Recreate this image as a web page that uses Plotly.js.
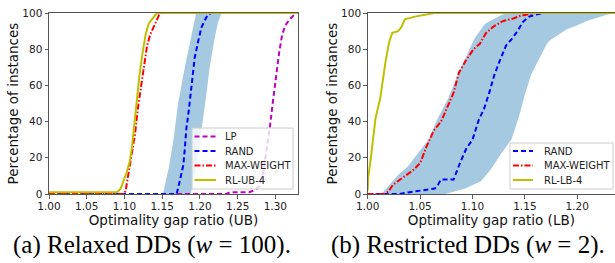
<!DOCTYPE html>
<html><head><meta charset="utf-8">
<script src="https://cdn.plot.ly/plotly-3.0.1.min.js"></script>
<style>html,body{margin:0;padding:0;background:#fff}#c{width:615px;height:263px}</style>
</head><body><div id="c"></div>
<script>
// ---- Panel (a): Relaxed DDs, upper bound ----
const lpX   = [1.00, 1.235, 1.24, 1.265, 1.272, 1.278, 1.284, 1.289, 1.293, 1.297, 1.301, 1.305, 1.309, 1.313, 1.318, 1.323, 1.327, 1.33];
const lpY   = [0, 0, 1, 1, 2, 4, 12, 25, 38, 52, 66, 78, 88, 93, 96, 98, 100, 100];
const randAX = [1.00, 1.169, 1.171, 1.174, 1.178, 1.180, 1.182, 1.1855, 1.1885, 1.191, 1.193, 1.1975, 1.202, 1.2065, 1.2105, 1.215, 1.33];
const randAY = [0, 0, 3, 9, 16, 25, 36, 47, 57, 66, 75, 84, 92, 96, 99, 100, 100];
const mwAX  = [1.00, 1.100, 1.102, 1.105, 1.109, 1.114, 1.118, 1.122, 1.126, 1.130, 1.134, 1.138, 1.142, 1.146, 1.149, 1.33];
const mwAY  = [0, 0, 3, 10, 20, 33, 48, 60, 72, 82, 88, 92, 96, 99, 100, 100];
const rlAX  = [1.00, 1.090, 1.095, 1.099, 1.103, 1.107, 1.110, 1.113, 1.116, 1.120, 1.124, 1.128, 1.132, 1.137, 1.141, 1.144, 1.33];
const rlAY  = [1, 1, 3, 7, 12, 18, 26, 38, 52, 66, 78, 88, 94, 97, 99, 100, 100];
const bandALoX = [1.151, 1.159, 1.165, 1.171, 1.180, 1.187, 1.192, 1.195];
const bandALoY = [0, 15, 30, 50, 70, 85, 95, 100];
const bandAHiX = [1.188, 1.195, 1.200, 1.207, 1.213, 1.219, 1.224, 1.229];
const bandAHiY = [0, 15, 30, 50, 70, 85, 95, 100];

// ---- Panel (b): Restricted DDs, lower bound ----
const randBX = [1.00, 1.030, 1.040, 1.053, 1.064, 1.067, 1.070, 1.082, 1.085, 1.088, 1.094, 1.100, 1.106, 1.111, 1.116, 1.121, 1.127, 1.132, 1.138, 1.143, 1.148, 1.154, 1.160, 1.167, 1.236];
const randBY = [0, 0, 1, 2, 3, 5, 8, 8, 13, 17, 25, 30, 41, 47, 56, 66, 75, 82, 86, 90, 95, 98, 99, 100, 100];
const mwBX  = [1.00, 1.016, 1.020, 1.024, 1.031, 1.037, 1.043, 1.050, 1.056, 1.063, 1.070, 1.076, 1.082, 1.087, 1.094, 1.101, 1.107, 1.113, 1.120, 1.129, 1.139, 1.146, 1.155, 1.160, 1.236];
const mwBY  = [0, 0, 1.5, 5, 8, 10.5, 13, 17, 26, 35, 40, 48, 56, 67, 74, 80, 83, 89, 92.5, 95.5, 97, 98.5, 99.5, 100, 100];
const rlBX  = [1.000, 1.0005, 1.003, 1.0055, 1.0075, 1.010, 1.012, 1.0135, 1.015, 1.017, 1.0195, 1.021, 1.0235, 1.029, 1.032, 1.0355, 1.045, 1.053, 1.064, 1.236];
const rlBY  = [2, 9, 20, 31, 42, 48, 53, 59, 66, 73, 81, 85, 89, 90, 92, 96.5, 98, 99, 100, 100];
const bandBLoX = [1.013, 1.021, 1.029, 1.038, 1.046, 1.053, 1.058, 1.067, 1.077, 1.086, 1.096, 1.102, 1.112, 1.121, 1.128, 1.135];
const bandBLoY = [0, 5, 10.5, 15, 21, 26, 30, 42, 53, 66, 79, 86, 94, 97, 99, 100];
const bandBHiX = [1.074, 1.093, 1.108, 1.118, 1.127, 1.137, 1.140, 1.145, 1.150, 1.156, 1.164, 1.171, 1.174, 1.182, 1.190, 1.199, 1.209, 1.218, 1.228, 1.236];
const bandBHiY = [0, 3, 7, 14, 22, 30, 35, 44, 55, 66, 75, 83, 85, 88, 91, 93, 95.6, 97.4, 99, 100];

const yTicks = [0, 20, 40, 60, 80, 100];
const xTicksA = [1.00, 1.05, 1.10, 1.15, 1.20, 1.25, 1.30];
const xTicksB = [1.00, 1.05, 1.10, 1.15, 1.20];
const legendA = ['LP', 'RAND', 'MAX-WEIGHT', 'RL-UB-4'];
const legendB = ['RAND', 'MAX-WEIGHT', 'RL-LB-4'];
const captions = ['(a) Relaxed DDs (<i>w</i> = 100).', '(b) Restricted DDs (<i>w</i> = 2).'];

const MAG = '#bf00bf', BLU = '#0000ff', RED = '#ff0000', YEL = '#bfbf00';
const BAND = 'rgba(31,119,180,0.4)';
const DASH = '5px,3px', DASHDOT = '6px,2px,1.5px,2px';
const STY = {'LP': [MAG, DASH], 'RAND': [BLU, DASH], 'MAX-WEIGHT': [RED, DASHDOT], 'RL-UB-4': [YEL, 'solid'], 'RL-LB-4': [YEL, 'solid']};

function band(loX, loY, hiX, hiY, xa, ya) {
  return {x: loX.concat(hiX.slice().reverse()), y: loY.concat(hiY.slice().reverse()),
    xaxis: xa, yaxis: ya, mode: 'lines', fill: 'toself', fillcolor: BAND,
    line: {width: 0, color: BAND}, showlegend: false, hoverinfo: 'skip'};
}
function ln(x, y, name, xa, ya) {
  return {x: x, y: y, name: name, xaxis: xa, yaxis: ya, mode: 'lines', showlegend: false,
    line: {color: STY[name][0], width: 2, dash: STY[name][1]}};
}

const data = [
  band(bandALoX, bandALoY, bandAHiX, bandAHiY, 'x', 'y'),
  ln(lpX, lpY, 'LP', 'x', 'y'),
  ln(randAX, randAY, 'RAND', 'x', 'y'),
  ln(mwAX, mwAY, 'MAX-WEIGHT', 'x', 'y'),
  ln(rlAX, rlAY, 'RL-UB-4', 'x', 'y'),
  band(bandBLoX, bandBLoY, bandBHiX, bandBHiY, 'x2', 'y2'),
  ln(randBX, randBY, 'RAND', 'x2', 'y2'),
  ln(mwBX, mwBY, 'MAX-WEIGHT', 'x2', 'y2'),
  ln(rlBX, rlBY, 'RL-LB-4', 'x2', 'y2')
];

const FONT = 'DejaVu Sans, sans-serif';
const SERIF = '"Liberation Serif", "Times New Roman", Times, serif';
function xax(range, ticks, title, dom, anchor) {
  return {domain: dom, range: range, anchor: anchor, tickvals: ticks, ticktext: ticks.map(v => v.toFixed(2)),
    ticks: 'outside', ticklen: 3.5, tickwidth: 0.8, tickcolor: '#333', ticklabelstandoff: -1,
    showline: true, mirror: true, linecolor: '#555', linewidth: 1,
    showgrid: false, zeroline: false, tickfont: {family: FONT, size: 10.5, color: '#222'},
    title: {text: title, font: {family: FONT, size: 13.5, color: '#111'}, standoff: 0}, automargin: false};
}
function yax(dom, anchor) {
  return {domain: dom, range: [0, 100], anchor: anchor, tickvals: yTicks,
    ticks: 'outside', ticklen: 3.5, tickwidth: 0.8, tickcolor: '#333',
    showline: true, mirror: true, linecolor: '#555', linewidth: 1,
    showgrid: false, zeroline: false, tickfont: {family: FONT, size: 10.5, color: '#222'},
    title: {text: 'Percentage of instances', font: {family: FONT, size: 13.5, color: '#111'}, standoff: 0}, automargin: false};
}
const yDom = [1 - 194/263, 1 - 13/263];

// hand-built legends (matplotlib-style compact spacing)
const W = 615, H = 263;
const shapes = [], annotations = [];
function legend(names, box, yc, sx0, sx1, tx) {
  shapes.push({type: 'rect', xref: 'paper', yref: 'paper', x0: box[0]/W, x1: box[1]/W, y0: 1 - box[3]/H, y1: 1 - box[2]/H,
    fillcolor: 'rgba(255,255,255,0.8)', line: {color: '#cccccc', width: 1}, layer: 'above'});
  names.forEach((n, i) => {
    const yy = 1 - (yc[0] + i * yc[1]) / H;
    shapes.push({type: 'line', xref: 'paper', yref: 'paper', x0: sx0/W, x1: sx1/W, y0: yy, y1: yy,
      line: {color: STY[n][0], width: 2, dash: STY[n][1]}, layer: 'above'});
    annotations.push({text: n, xref: 'paper', yref: 'paper', x: tx/W, y: yy, xanchor: 'left', yanchor: 'middle',
      showarrow: false, font: {family: FONT, size: 10, color: '#222'}});
  });
}
legend(legendA, [192, 293, 128, 189], [136.5, 14.5], 194.5, 216, 223);
legend(legendB, [510, 613, 143, 189], [151, 14.5], 513, 533, 542);
captions.forEach((c, i) => annotations.push({text: c, xref: 'paper', yref: 'paper', x: [152, 468][i]/W, y: 1 - 245/H,
  showarrow: false, xanchor: 'center', yanchor: 'middle', font: {family: SERIF, size: 25, color: '#000'}}));

const layout = {
  width: W, height: H, margin: {l: 0, r: 0, t: 0, b: 0},
  paper_bgcolor: '#fff', plot_bgcolor: '#fff', showlegend: false,
  xaxis: xax([1.0, 1.33], xTicksA, 'Optimality gap ratio (UB)', [49/W, 298/W], 'y'),
  yaxis: yax(yDom, 'x'),
  xaxis2: xax([1.0, 1.236], xTicksB, 'Optimality gap ratio (LB)', [367.7/W, 1.0], 'y2'),
  yaxis2: yax(yDom, 'x2'),
  shapes: shapes, annotations: annotations
};
Plotly.newPlot('c', data, layout, {staticPlot: true, displayModeBar: false});
</script></body></html>
